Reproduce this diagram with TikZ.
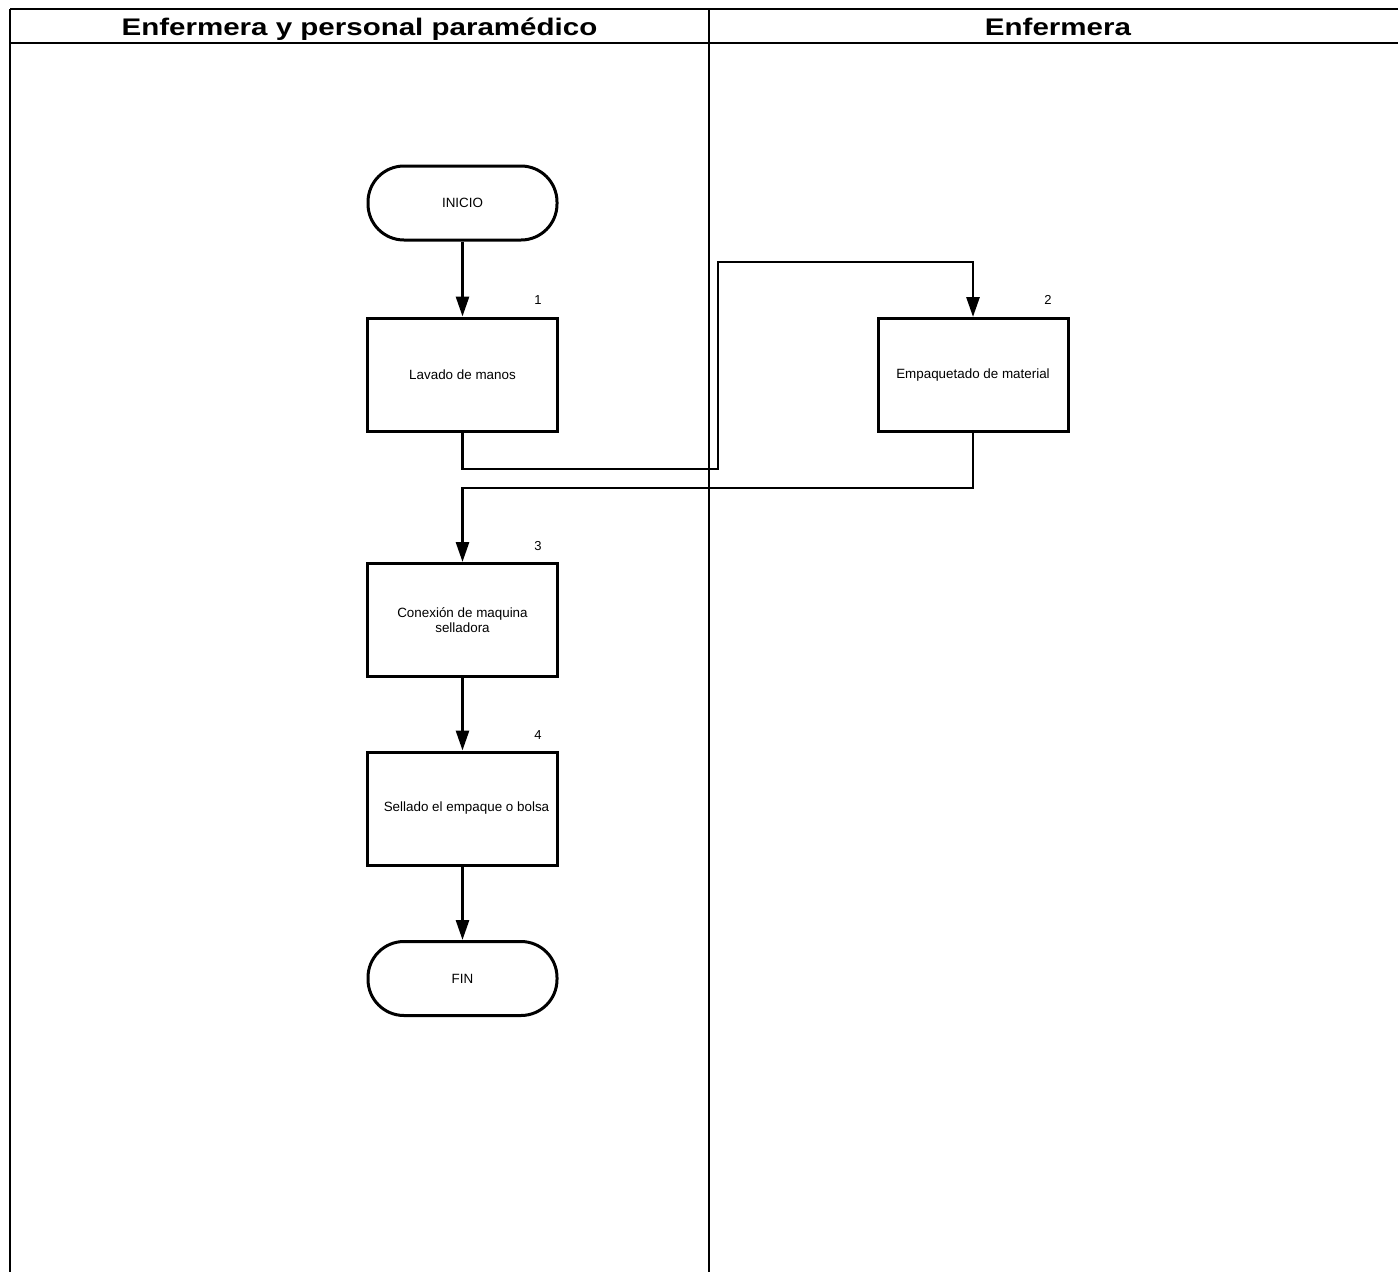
\documentclass[tikz,border=0pt]{standalone}
\usepackage{fontspec}
\setmainfont{Liberation Sans}
\usepackage{graphicx}
\usetikzlibrary{arrows.meta}
\begin{document}
\begin{tikzpicture}[x=1pt,y=-1pt,
  frame/.style={line width=2pt},
  procbox/.style={draw,line width=3pt,minimum width=190pt,minimum height=113pt,inner sep=2pt,align=center,
    font=\fontsize{13.4}{15}\selectfont},
  term/.style={draw,line width=3pt,minimum width=189pt,minimum height=74pt,rounded corners=36pt,
    font=\fontsize{13.4}{15}\selectfont},
  numlbl/.style={font=\fontsize{13}{15}\selectfont,inner sep=0pt},
  hdr/.style={anchor=base,inner sep=0pt,font=\fontsize{24}{28}\selectfont\bfseries},
  arr/.style={line width=2.8pt,-{Triangle[length=20pt,width=13pt]}}]
\useasboundingbox (0,0) rectangle (1398,1272);
% frame
\draw[frame] (10,9) -- (1398,9);
\draw[frame] (10,43) -- (1398,43);
\draw[frame] (10,9) -- (10,1272);
\draw[frame] (709,9) -- (709,1272);
\node[hdr] (h1) at (359.5,35) {\scalebox{1.23}[1]{Enfermera y personal paramédico}};
\node[hdr] (h2) at (1058,35) {\scalebox{1.23}[1]{Enfermera}};
% nodes
\node[term] (start) at (462.5,203) {INICIO};
\node[procbox] (b1) at (462.5,374.5) {Lavado de manos};
\node[numlbl] (n1) at (538,300) {1};
\node[procbox] (b2) at (973,375) {Empaquetado de material};
\node[numlbl] (n2) at (1048,300) {2};
\node[procbox] (b3) at (462.5,620) {Conexión de maquina\\selladora};
\node[numlbl] (n3) at (538,546) {3};
\node[procbox] (b4) at (462.5,808.5) {\hspace*{8pt}Sellado el empaque o bolsa};
\node[numlbl] (n4) at (538,735) {4};
\node[term] (fin) at (462.5,978.5) {FIN};
% connectors
\coordinate (j1) at (718,469);
\coordinate (j2) at (718,262);
\coordinate (j3) at (462.5,488);
\draw[arr] (start.south) -- (b1.north);
\draw[arr] (b1.south) |- (j1) -- (j2) -| (b2.north);
\draw[arr] (b2.south) |- (j3) -- (b3.north);
\draw[arr] (b3.south) -- (b4.north);
\draw[arr] (b4.south) -- (fin.north);
\end{tikzpicture}
\end{document}
